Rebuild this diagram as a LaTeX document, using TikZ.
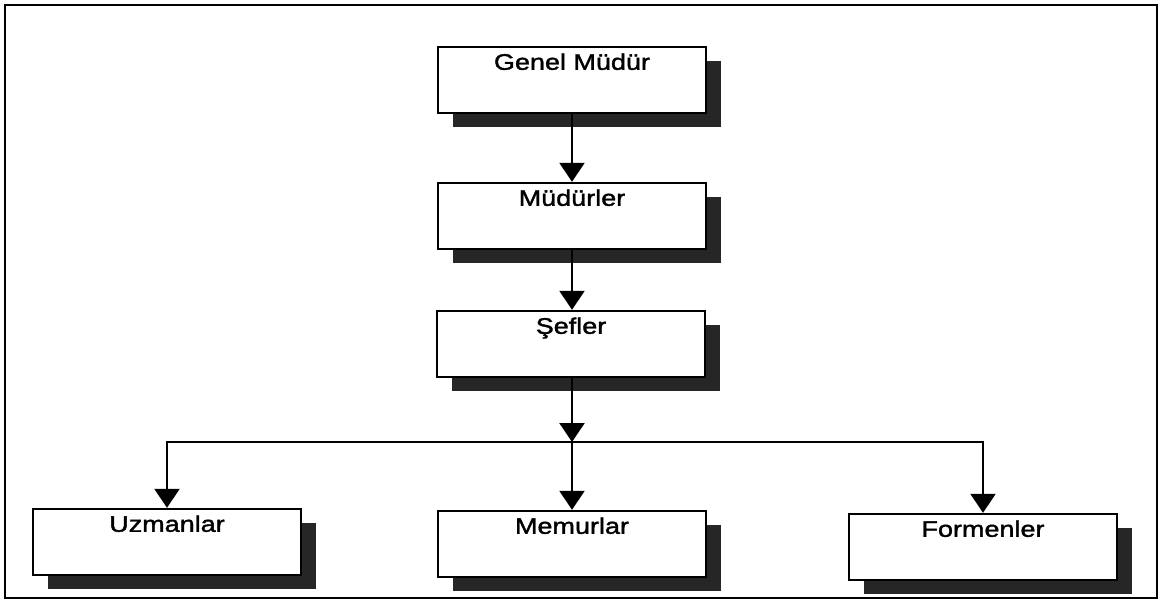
\documentclass[tikz,border=0pt]{standalone}
\usepackage{fontspec}
\setmainfont{Liberation Sans}[FakeStretch=1.2,FakeBold=1.6]
\usetikzlibrary{arrows.meta,shadows}
\begin{document}
\begin{tikzpicture}[x=1pt,y=-1pt,
  box/.style={draw, line width=2.4pt, fill=white, minimum width=268pt, minimum height=66pt, inner sep=0pt,
    drop shadow={shadow xshift=15pt, shadow yshift=-14pt, fill=black!85, opacity=1}},
  lbl/.style={anchor=base, font=\fontsize{22.5}{26}\selectfont, inner sep=0pt},
  arr/.style={line width=2.2pt, -{Triangle[width=25pt,length=19pt]}},
  frame/.style={draw, line width=2.4pt}]
\useasboundingbox (0,0) rectangle (1161,605);
\draw[frame] (5,5) rectangle (1157,598);

\node[box] (G)  at (572,80) {};
\node[box] (M)  at (572,216) {};
\node[box] (S)  at (571,344) {};
\node[box] (U)  at (167,542) {};
\node[box] (Me) at (572,544) {};
\node[box] (F)  at (983,547) {};

\node[lbl] (Gt)  at ([yshift=-24pt]G.north)  {Genel Müdür};
\node[lbl] (Mt)  at ([yshift=-24pt]M.north)  {Müdürler};
\node[lbl] (St)  at ([yshift=-24pt]S.north)  {Şefler};
\node[lbl] (Ut)  at ([yshift=-24pt]U.north)  {Uzmanlar};
\node[lbl] (Met) at ([yshift=-24pt]Me.north) {Memurlar};
\node[lbl] (Ft)  at ([yshift=-24pt]F.north)  {Formenler};

\coordinate (j) at (572,442);
\draw[arr] (G.south) -- (M.north);
\draw[arr] (M.south) -- (S.north -| M.south);
\draw[arr] (S.south -| j) -- (j);
\draw[arr] (j) -| (U.north);
\draw[arr] (j) -| (F.north);
\draw[arr] (j) -- (Me.north);
\end{tikzpicture}
\end{document}
